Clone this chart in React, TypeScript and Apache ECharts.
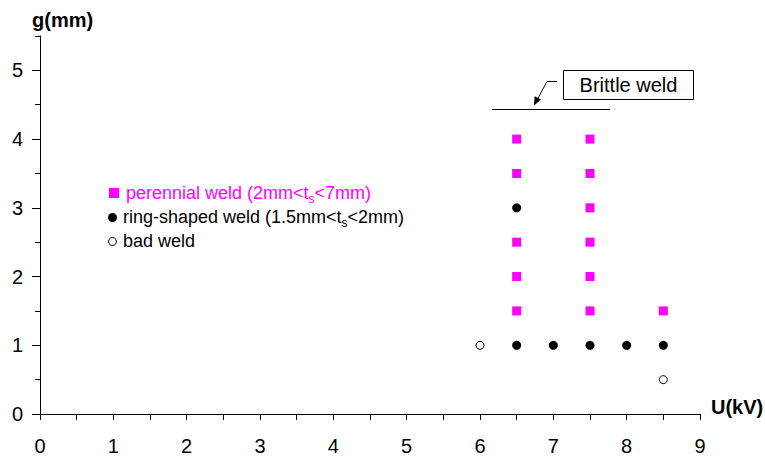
import React, { useEffect, useRef } from "react";
import * as echarts from "echarts";

const FONT = "'Liberation Sans', Arial, sans-serif";

const xTickValues = [0, 1, 2, 3, 4, 5, 6, 7, 8, 9];
const yTickValues = [0, 1, 2, 3, 4, 5];

// [U(kV), g(mm)]
const perennialWeld: [number, number][] = [
  [6.5, 1.5], [6.5, 2], [6.5, 2.5], [6.5, 3.5], [6.5, 4],
  [7.5, 1.5], [7.5, 2], [7.5, 2.5], [7.5, 3], [7.5, 3.5], [7.5, 4],
  [8.5, 1.5],
];
const ringShapedWeld: [number, number][] = [
  [6.5, 3], [6.5, 1], [7, 1], [7.5, 1], [8, 1], [8.5, 1],
];
const badWeld: [number, number][] = [
  [6, 1], [8.5, 0.5],
];

export default function App() {
  const ref = useRef<HTMLDivElement>(null);
  useEffect(() => {
    if (!ref.current) return;
    const chart = echarts.init(ref.current, undefined, { renderer: "svg" });
    const option: any = {
      animation: false,
      backgroundColor: "#ffffff",
      textStyle: { fontFamily: FONT },
      grid: { left: 40, right: 65, top: 36, bottom: 43, containLabel: false },
      xAxis: {
        type: "value",
        min: 0,
        max: 9,
        interval: 1,
        axisLine: { show: true, lineStyle: { color: "#000", width: 1 } },
        axisTick: { show: true, length: 6, lineStyle: { color: "#000" } },
        minorTick: { show: true, splitNumber: 2, length: 6, lineStyle: { color: "#000" } },
        axisLabel: { color: "#000", fontSize: 20, fontFamily: FONT, margin: 22, customValues: xTickValues },
        splitLine: { show: false },
      },
      yAxis: [
        {
          type: "value",
          min: 0,
          max: 5.5,
          interval: 0.5,
          axisLine: { show: true, lineStyle: { color: "#000", width: 1 } },
          axisTick: { show: true, length: 5, lineStyle: { color: "#000" } },
          axisLabel: { color: "#000", fontSize: 20, fontFamily: FONT, margin: 17, customValues: yTickValues },
          splitLine: { show: false },
        },
        {
          type: "value",
          min: 0,
          max: 5.5,
          interval: 1,
          position: "left",
          axisLine: { show: false },
          axisTick: { show: true, length: 8, lineStyle: { color: "#000" }, customValues: yTickValues },
          axisLabel: { show: false },
          splitLine: { show: false },
        },
      ],
      series: [
        {
          name: "perennial weld",
          type: "scatter",
          yAxisIndex: 0,
          symbol: "rect",
          symbolSize: 9,
          itemStyle: { color: "#ff00ff", opacity: 1 },
          data: perennialWeld,
        },
        {
          name: "ring-shaped weld",
          type: "scatter",
          yAxisIndex: 0,
          symbol: "circle",
          symbolSize: 9,
          itemStyle: { color: "#000000", opacity: 1 },
          data: ringShapedWeld,
        },
        {
          name: "bad weld",
          type: "scatter",
          yAxisIndex: 0,
          symbol: "circle",
          symbolSize: 8,
          itemStyle: { color: "#ffffff", borderColor: "#000000", borderWidth: 1, opacity: 1 },
          data: badWeld,
        },
      ],
      graphic: [
        { type: "text", x: 32, y: 20, style: { text: "g(mm)", fontSize: 20, fontWeight: "bold", fontFamily: FONT, fill: "#000", align: "left", verticalAlign: "middle" } },
        { type: "text", x: 711, y: 407, style: { text: "U(kV)", fontSize: 20, fontWeight: "bold", fontFamily: FONT, fill: "#000", align: "left", verticalAlign: "middle" } },
        // legend
        { type: "rect", shape: { x: 109, y: 188, width: 10, height: 10 }, style: { fill: "#ff00ff" } },
        {
          type: "text", x: 126, y: 193,
          style: {
            text: "{a|perennial weld (2mm<t}{s|s}{a|<7mm)}",
            verticalAlign: "middle", align: "left",
            rich: {
              a: { fontSize: 18, lineHeight: 24, fill: "#ff00ff", fontFamily: FONT, verticalAlign: "middle" },
              s: { fontSize: 12, lineHeight: 12, fill: "#ff00ff", fontFamily: FONT, verticalAlign: "bottom" },
            },
          },
        },
        { type: "circle", shape: { cx: 112.5, cy: 217.5, r: 4.5 }, style: { fill: "#000" } },
        {
          type: "text", x: 123, y: 217,
          style: {
            text: "{a|ring-shaped weld (1.5mm<t}{s|s}{a|<2mm)}",
            verticalAlign: "middle", align: "left",
            rich: {
              a: { fontSize: 18, lineHeight: 24, fill: "#000", fontFamily: FONT, verticalAlign: "middle" },
              s: { fontSize: 12, lineHeight: 12, fill: "#000", fontFamily: FONT, verticalAlign: "bottom" },
            },
          },
        },
        { type: "circle", shape: { cx: 112.5, cy: 241.5, r: 4 }, style: { fill: "#fff", stroke: "#000", lineWidth: 1 } },
        { type: "text", x: 123, y: 241, style: { text: "bad weld", fontSize: 18, fontFamily: FONT, fill: "#000", align: "left", verticalAlign: "middle" } },
        // brittle weld annotation
        { type: "rect", shape: { x: 563.5, y: 70.5, width: 130, height: 29 }, style: { fill: "#fff", stroke: "#000", lineWidth: 1 } },
        { type: "text", x: 628.5, y: 85, style: { text: "Brittle weld", fontSize: 20, fontFamily: FONT, fill: "#000", align: "center", verticalAlign: "middle" } },
        { type: "line", shape: { x1: 492, y1: 109.5, x2: 610, y2: 109.5 }, style: { stroke: "#000", lineWidth: 1 } },
        { type: "polyline", shape: { points: [[557, 81.5], [547, 81.5], [536.5, 101]] }, style: { stroke: "#000", lineWidth: 1, fill: null } },
        { type: "polygon", shape: { points: [[534, 105.5], [541, 99.5], [534.6, 96.3]] }, style: { fill: "#000" } },
      ],
    };
    chart.setOption(option);
    return () => chart.dispose();
  }, []);
  return (
    <div
      ref={ref}
      style={{ position: "fixed", left: 0, top: 0, width: 765, height: 457 }}
    />
  );
}
